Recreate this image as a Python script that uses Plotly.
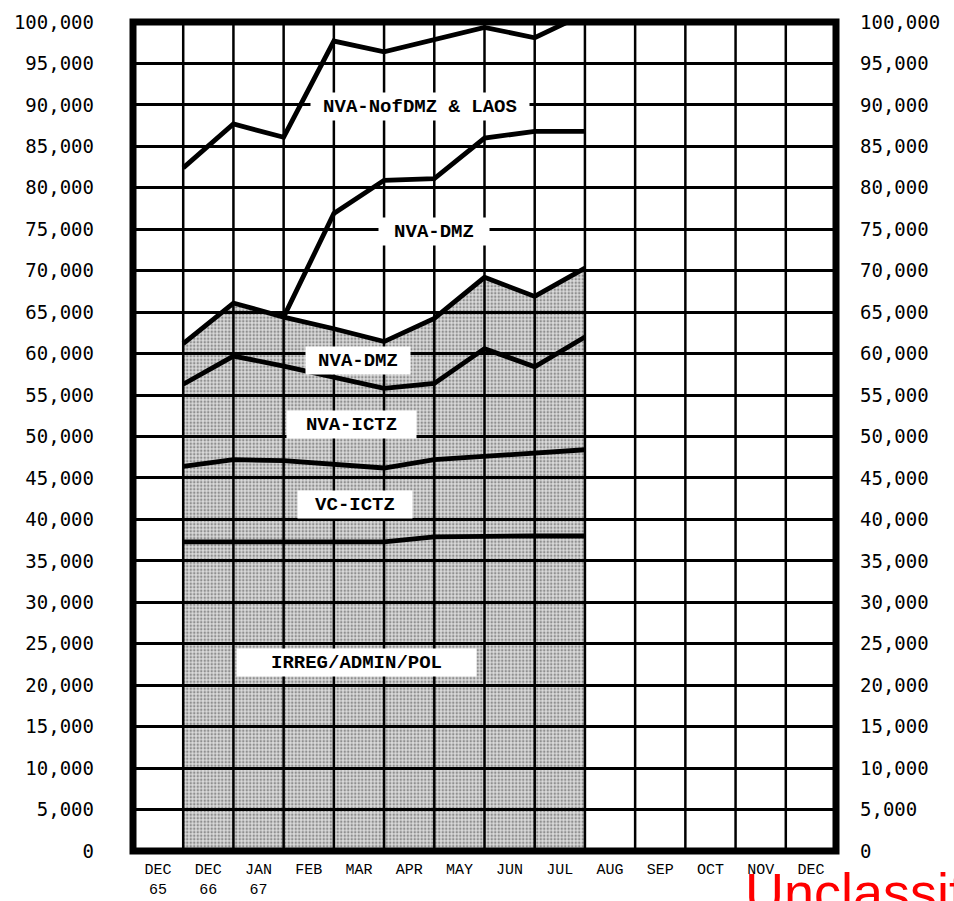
import numpy as np
import plotly.graph_objects as go

# Months plotted (value at end of each month = right edge of its column)
months = ["DEC 65", "DEC 66", "JAN 67", "FEB", "MAR", "APR", "MAY", "JUN", "JUL"]
# Axis tick labels (one per column)
tick_labels = ["DEC<br>65", "DEC<br>66", "JAN<br>67", "FEB", "MAR", "APR", "MAY",
               "JUN", "JUL", "AUG", "SEP", "OCT", "NOV", "DEC"]

# Component strengths (stacked from bottom)
irreg_admin_pol = [37300, 37300, 37300, 37300, 37300, 37900, 38000, 38000, 38000]
vc_ictz         = [9100, 9900, 9800, 9300, 8900, 9300, 9600, 10000, 10400]
nva_ictz        = [9900, 12500, 11400, 10500, 9600, 9200, 13000, 10400, 13600]
nva_dmz_1       = [4900, 6400, 5900, 5900, 5650, 7850, 8600, 8500, 8300]
nva_dmz_2       = [0, 0, 0, 13900, 19450, 16850, 16800, 19900, 16500]
nva_nofdmz_laos = [21200, 21600, 21700, 20800, 15500, 16800, 13350, 11300, 14200]

y_ticks = list(range(0, 100001, 5000))

x_pts = np.arange(1, len(months) + 1)
stack = np.cumsum(np.array([irreg_admin_pol, vc_ictz, nva_ictz, nva_dmz_1,
                            nva_dmz_2, nva_nofdmz_laos]), axis=0)

fig = go.Figure()

# Shaded (stippled) area under the lower NVA-DMZ band
fig.add_trace(go.Scatter(
    x=x_pts, y=stack[3], mode="lines", fill="tozeroy",
    line=dict(color="rgba(0,0,0,0)", width=0),
    fillcolor="rgba(0,0,0,0.15)",
    fillpattern=dict(shape=".", fgcolor="rgba(0,0,0,0.7)",
                     bgcolor="rgba(0,0,0,0.14)", size=3.5, solidity=0.4),
    hoverinfo="skip", showlegend=False))

line_style = dict(color="black", width=4.8)
for i in [0, 1, 2, 3, 5]:
    fig.add_trace(go.Scatter(x=x_pts, y=stack[i], mode="lines",
                             line=line_style, showlegend=False))
# upper NVA-DMZ band starts at JAN 67
fig.add_trace(go.Scatter(x=x_pts[2:], y=stack[4][2:], mode="lines",
                         line=line_style, showlegend=False))
# invisible trace to carry the right-hand axis
fig.add_trace(go.Scatter(x=x_pts, y=stack[0], yaxis="y2", mode="lines",
                         line=dict(color="rgba(0,0,0,0)"), hoverinfo="skip",
                         showlegend=False))

tick_font = dict(family="DejaVu Sans Mono", size=19, color="black")
fig.update_layout(
    width=954, height=901,
    margin=dict(l=133, r=118, t=22, b=50),
    paper_bgcolor="white", plot_bgcolor="white",
    xaxis=dict(range=[0, 14], tickmode="array",
               tickvals=[i + 0.5 for i in range(14)], ticktext=tick_labels,
               showgrid=False, zeroline=False, ticks="", showline=False,
               automargin=False,
               tickfont=dict(family="Liberation Mono", size=15, color="black"),
               ticklabelstandoff=7),
    yaxis=dict(range=[0, 100000], tickvals=y_ticks, tickformat=",d",
               showgrid=True, gridcolor="black", gridwidth=2.5,
               zeroline=False, ticks="", showline=False, automargin=False,
               tickfont=tick_font, ticklabelstandoff=38),
    yaxis2=dict(range=[0, 100000], tickvals=y_ticks, tickformat=",d",
                overlaying="y", side="right", showgrid=False, zeroline=False,
                ticks="", showline=False, tickfont=tick_font, automargin=False,
                ticklabelstandoff=23),
)

# vertical grid lines at column boundaries
for k in range(1, 14):
    fig.add_vline(x=k, line=dict(color="black", width=2.5), layer="below")

# thick frame
fig.add_shape(type="rect", xref="paper", yref="paper", x0=0, x1=1, y0=0, y1=1,
              line=dict(color="black", width=7), layer="above")

labels = [
    ("NVA-NofDMZ & LAOS", 5.72, 89750, 214),
    ("NVA-DMZ", 6.0, 74700, 106),
    ("NVA-DMZ", 4.48, 59200, 100),
    ("NVA-ICTZ", 4.36, 51500, 125),
    ("VC-ICTZ", 4.42, 41850, 110),
    ("IRREG/ADMIN/POL", 4.46, 22700, 235),
]
for text, x, y, w in labels:
    fig.add_annotation(x=x, y=y, text=text, showarrow=False, bgcolor="white",
                       width=w, height=23, borderpad=2,
                       font=dict(family="Liberation Mono", size=19,
                                 color="black", weight="bold"))

fig.add_annotation(xref="paper", yref="paper", x=0.867, y=-0.011,
                   xanchor="left", yanchor="top", text="Unclassified",
                   showarrow=False,
                   font=dict(family="Liberation Sans", size=54, color="red"))

fig.write_html("out.html", config={"displayModeBar": False},
               post_script="document.body.style.margin='0';"
                           "document.body.style.overflow='hidden';")
